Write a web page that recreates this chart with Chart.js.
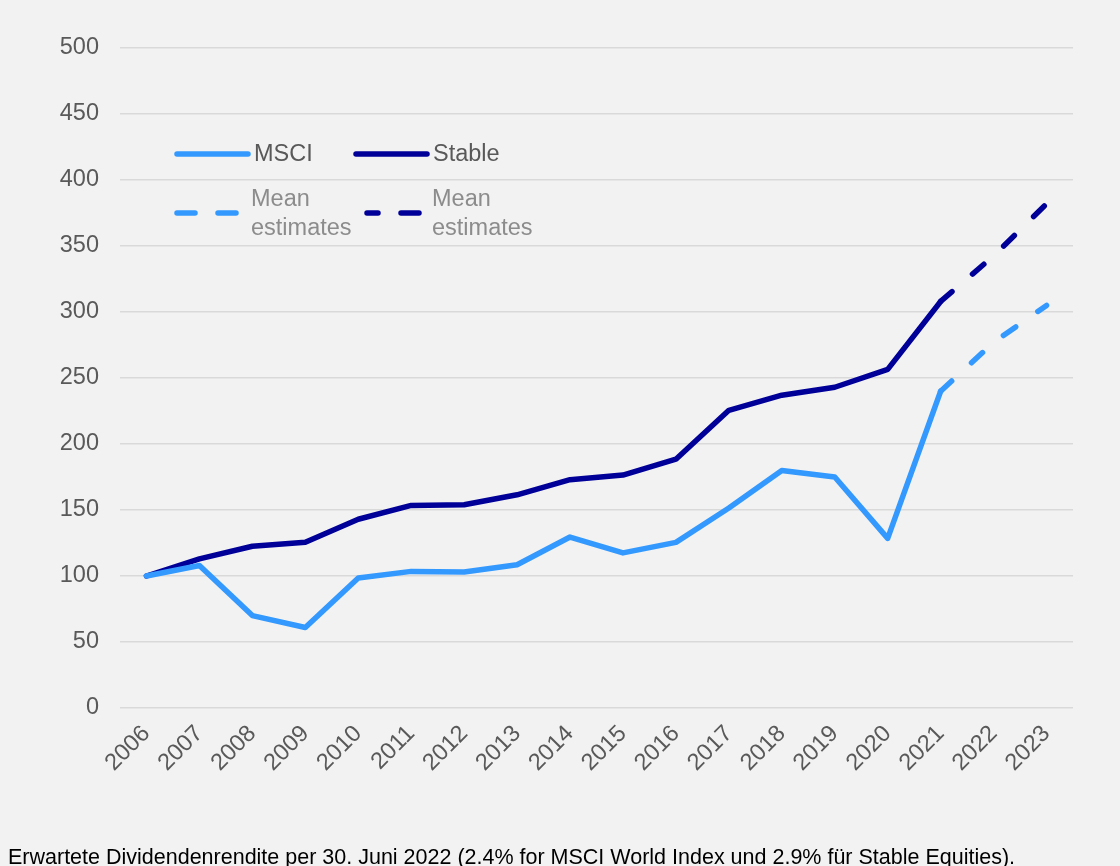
<!DOCTYPE html>
<html>
<head>
<meta charset="utf-8">
<script src="https://cdn.jsdelivr.net/npm/chart.js@4"></script>
<style>
  html, body { margin: 0; padding: 0; background: #f2f2f2; }
  #wrap { position: relative; width: 1120px; height: 866px; overflow: hidden; font-family: "Liberation Sans", Arial, sans-serif; }
  #chart { position: absolute; left: 0; top: 0; }
  .leg { position: absolute; font-size: 23.5px; line-height: 29px; white-space: nowrap; }
  .main { color: #595959; }
  .est { color: #8c8c8c; }
  #note { position: absolute; left: 8px; top: 845px; font-size: 21.5px; color: #000; white-space: nowrap; }
</style>
</head>
<body>
<div id="wrap">
  <canvas id="chart" width="1120" height="866"></canvas>
  <div id="note">Erwartete Dividendenrendite per 30. Juni 2022 (2.4% for MSCI World Index und 2.9% für Stable Equities).</div>
</div>
<script>
const years = ['2006','2007','2008','2009','2010','2011','2012','2013','2014','2015','2016','2017','2018','2019','2020','2021','2022','2023'];
const msci = [100, 108, 70, 61, 98.5, 103.5, 103, 108.5, 129.5, 117.5, 125.5, 151.5, 180, 175, 128.5, 240, null, null];
const msciEst = [null, null, null, null, null, null, null, null, null, null, null, null, null, null, null, 240, 277, 305];
const stable = [100, 113, 122.5, 125.5, 143, 153.5, 154, 161.5, 173, 176.5, 188.5, 225.5, 237, 243, 256.5, 308, null, null];
const stableEst = [null, null, null, null, null, null, null, null, null, null, null, null, null, null, null, 308, 342.5, 382];
const yTicks = [0, 50, 100, 150, 200, 250, 300, 350, 400, 450, 500];

const lightBlue = '#3399ff';
const darkBlue = '#000099';

function lineSet(label, data, color, dashed) {
  return {
    label, data,
    borderColor: color,
    borderWidth: 5.5,
    borderCapStyle: 'round',
    borderJoinStyle: 'round',
    borderDash: dashed ? [15, 27] : [],
    pointRadius: 0,
    tension: 0,
    spanGaps: false,
    fill: false
  };
}

new Chart(document.getElementById('chart').getContext('2d'), {
  type: 'line',
  data: {
    labels: years,
    datasets: [
      lineSet('MSCI', msci, lightBlue, false),
      lineSet('Stable', stable, darkBlue, false),
      lineSet('Mean estimates', msciEst, lightBlue, true),
      lineSet('Mean estimates', stableEst, darkBlue, true)
    ]
  },
  options: {
    responsive: false,
    animation: false,
    layout: { padding: { top: 48, right: 47, bottom: 78, left: 0 } },
    plugins: { legend: { display: false }, tooltip: { enabled: false } },
    scales: {
      x: {
        offset: true,
        grid: { display: false },
        border: { display: false },
        ticks: {
          color: '#595959',
          font: { family: 'Liberation Sans', size: 23.5 },
          maxRotation: 45, minRotation: 45,
          autoSkip: false,
          padding: 4
        },
        afterFit: s => { s.height = 80; }
      },
      y: {
        min: 0, max: 500,
        afterBuildTicks: s => { s.ticks = yTicks.map(v => ({ value: v })); },
        grid: { color: '#d9d9d9', lineWidth: 1.5, drawTicks: false },
        border: { display: false },
        ticks: {
          color: '#595959',
          font: { family: 'Liberation Sans', size: 23.5 },
          padding: 21
        },
        afterFit: s => { s.width = 120; }
      }
    }
  }
});

// legend drawn over the plot, like the original
const wrap = document.getElementById('wrap');
const items = [
  { x: 177, y: 154, tx: 254, text: 'MSCI', cls: 'main', color: lightBlue, dash: false, w: 71 },
  { x: 356, y: 154, tx: 433, text: 'Stable', cls: 'main', color: darkBlue, dash: false, w: 71 },
  { x: 177, y: 213, tx: 251, text: 'Mean<br>estimates', cls: 'est', color: lightBlue, dash: true, w: 64, off: 0 },
  { x: 367, y: 213, tx: 432, text: 'Mean<br>estimates', cls: 'est', color: darkBlue, dash: true, w: 54, off: 7 }
];
items.forEach(it => {
  const svgNS = 'http://www.w3.org/2000/svg';
  const svg = document.createElementNS(svgNS, 'svg');
  svg.setAttribute('width', it.w + 10);
  svg.setAttribute('height', 10);
  svg.style.position = 'absolute';
  svg.style.left = (it.x - 5) + 'px';
  svg.style.top = (it.y - 5) + 'px';
  const ln = document.createElementNS(svgNS, 'line');
  ln.setAttribute('x1', 5); ln.setAttribute('y1', 5);
  ln.setAttribute('x2', 5 + it.w); ln.setAttribute('y2', 5);
  ln.setAttribute('stroke', it.color);
  ln.setAttribute('stroke-width', 5.5);
  ln.setAttribute('stroke-linecap', 'round');
  if (it.dash) {
    ln.setAttribute('stroke-dasharray', '18 23');
    ln.setAttribute('stroke-dashoffset', it.off || 0);
  }
  svg.appendChild(ln);
  wrap.appendChild(svg);

  const d = document.createElement('div');
  d.className = 'leg ' + it.cls;
  d.innerHTML = it.text;
  d.style.left = it.tx + 'px';
  d.style.top = it.dash ? (it.y - 29) + 'px' : (it.y - 15) + 'px';
  wrap.appendChild(d);
});
</script>
</body>
</html>
